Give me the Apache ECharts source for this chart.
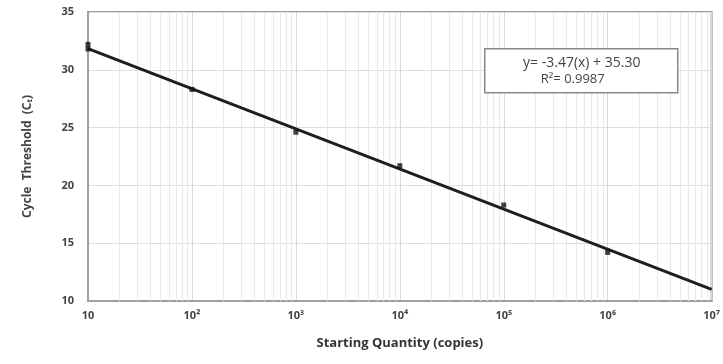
<!DOCTYPE html>
<html>
<head>
<meta charset="utf-8">
<script src="https://cdn.jsdelivr.net/npm/echarts@6/dist/echarts.min.js"></script>
<style>
html,body{margin:0;padding:0;background:#fff;}
#chart{width:723px;height:364px;}
</style>
</head>
<body>
<div id="chart"></div>
<script>
// ---- data ----
var quantities = [10, 10, 100, 1000, 10000, 100000, 1000000];
var cycleThresholds = [32.2, 31.8, 28.3, 24.6, 21.7, 18.3, 14.2];
var fitX = [10, 10000000];
var fitY = [31.83, 11.01];
var xTickLabels = ['10', '10²', '10³', '10⁴', '10⁵', '10⁶', '10⁷'];
var yTicks = [10, 15, 20, 25, 30, 35];
var equationText = 'y= -3.47(x) + 35.30';
var r2Text = 'R²= 0.9987';

var decades = [10, 100, 1000, 10000, 100000, 1000000];
var minorLines = [];
decades.forEach(function (d) {
  for (var k = 2; k <= 9; k++) minorLines.push({ xAxis: k * d });
});

var chart = echarts.init(document.getElementById('chart'));
var font = '"Open Sans", "Noto Sans", sans-serif';
chart.setOption({
  animation: false,
  backgroundColor: '#fff',
  grid: { left: 88, right: 9, top: 12, bottom: 63, show: true, borderColor: '#a0a0a0', borderWidth: 2, backgroundColor: 'transparent' },
  xAxis: {
    type: 'log', logBase: 10, min: 10, max: 10000000,
    name: 'Starting Quantity (copies)', nameLocation: 'middle', nameGap: 36,
    nameTextStyle: { fontFamily: font, fontWeight: 'bold', fontSize: 13, color: '#333' },
    axisLine: { show: true, lineStyle: { color: '#a0a0a0', width: 2 } },
    axisTick: { show: false },
    axisLabel: {
      fontFamily: font, fontSize: 11, color: '#444', margin: 9, fontWeight: 'bold',
      formatter: function (v) {
        var e = Math.round(Math.log10(v));
        return xTickLabels[e - 1];
      }
    },
    splitLine: { show: true, lineStyle: { color: '#d8d8d8', width: 1 } }
  },
  yAxis: {
    type: 'value', min: 10, max: 35, interval: 5,
    name: 'Cycle  Threshold  (Cₜ)', nameLocation: 'middle', nameGap: 54,
    nameTextStyle: { fontFamily: font, fontSize: 12, color: '#444', fontWeight: 'bold' },
    axisLine: { show: true, lineStyle: { color: '#a0a0a0', width: 2 } },
    axisTick: { show: false },
    axisLabel: { fontFamily: font, fontSize: 11, color: '#444', margin: 14, fontWeight: 'bold' },
    splitLine: { show: true, lineStyle: { color: '#dedede', width: 1 } }
  },
  series: [
    {
      type: 'line', data: [], silent: true, z: 0,
      markLine: {
        symbol: 'none', silent: true, label: { show: false },
        lineStyle: { color: '#e8e8e8', width: 1, type: 'solid' },
        data: minorLines
      }
    },
    {
      type: 'line',
      data: fitX.map(function (x, i) { return [x, fitY[i]]; }),
      symbol: 'none',
      lineStyle: { color: '#1e1e1e', width: 3 },
      z: 5
    },
    {
      type: 'scatter',
      data: quantities.map(function (x, i) { return [x, cycleThresholds[i]]; }),
      symbol: 'rect', symbolSize: 5,
      itemStyle: { color: '#111' },
      z: 6
    }
  ],
  graphic: [
    {
      type: 'group', left: 484, top: 48, z: 100,
      children: [
        { type: 'rect', z: 100, shape: { x: 0, y: 0, width: 193, height: 44 }, style: { fill: '#fff', stroke: '#888', lineWidth: 1.5 } },
        { type: 'text', z: 101, x: 97, y: 14, style: { text: equationText, font: '14px ' + font, fill: '#444', align: 'center', verticalAlign: 'middle' } },
        { type: 'text', z: 101, x: 88, y: 31, style: { text: r2Text, font: '13px ' + font, fill: '#444', align: 'center', verticalAlign: 'middle' } }
      ]
    }
  ]
});
</script>
</body>
</html>
